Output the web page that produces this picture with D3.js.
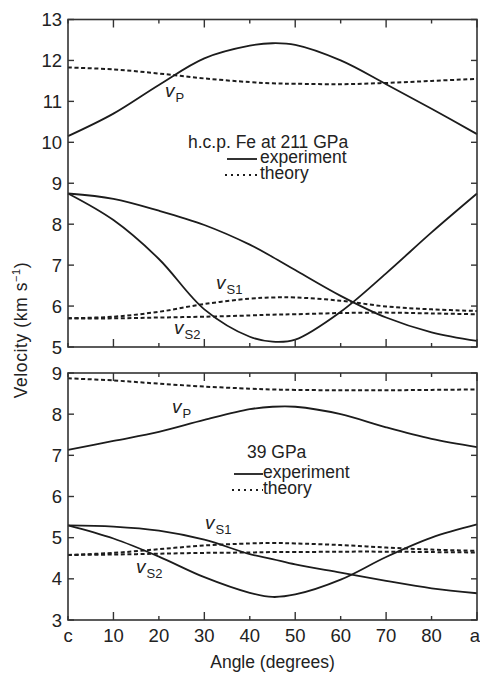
<!DOCTYPE html>
<html>
<head>
<meta charset="utf-8">
<script src="https://cdn.jsdelivr.net/npm/d3@7"></script>
<style>
  body { margin: 0; background: #fff; }
  svg { display: block; font-family: "Liberation Sans", Arial, sans-serif; }
  .curve { fill: none; stroke: #1c1c1c; stroke-width: 1.8; }
  .theory { stroke-dasharray: 4,2.6; stroke-width: 2; }
  .frame { fill: none; stroke: #333; stroke-width: 1.6; }
  .tick { stroke: #333; stroke-width: 1.4; }
</style>
</head>
<body>
<svg id="chart" width="480" height="673"></svg>
<script>
// sample angles (degrees from c axis)
const angles = [0, 10, 20, 30, 40, 45, 50, 60, 70, 80, 90];

// h.c.p. Fe at 211 GPa
const topVpExp  = [10.15, 10.7, 11.4, 12.05, 12.36, 12.42, 12.38, 12.0, 11.42, 10.82, 10.2];
const topVpTh   = [11.83, 11.78, 11.68, 11.56, 11.47, 11.44, 11.43, 11.42, 11.45, 11.5, 11.55];
const topVs1Exp = [8.75, 8.62, 8.33, 7.98, 7.5, 7.2, 6.88, 6.25, 5.72, 5.36, 5.15];
const topVs2Exp = [8.75, 8.1, 7.15, 5.92, 5.25, 5.13, 5.18, 5.86, 6.8, 7.8, 8.75];
const topVs1Th  = [5.7, 5.74, 5.86, 6.05, 6.18, 6.21, 6.21, 6.13, 5.99, 5.92, 5.88];
const topVs2Th  = [5.7, 5.7, 5.72, 5.74, 5.77, 5.79, 5.8, 5.83, 5.84, 5.82, 5.8];

// 39 GPa
const botVpExp  = [7.13, 7.35, 7.57, 7.86, 8.12, 8.18, 8.18, 8.0, 7.68, 7.4, 7.2];
const botVpTh   = [8.87, 8.82, 8.74, 8.67, 8.62, 8.6, 8.59, 8.58, 8.58, 8.59, 8.6];
const botVs1Exp = [5.3, 5.27, 5.17, 4.95, 4.6, 4.48, 4.35, 4.15, 3.95, 3.77, 3.65];
const botVs2Exp = [5.3, 4.98, 4.54, 4.04, 3.66, 3.56, 3.62, 3.98, 4.53, 5.0, 5.32];
const botVs1Th  = [4.58, 4.63, 4.72, 4.81, 4.86, 4.87, 4.86, 4.82, 4.76, 4.71, 4.68];
const botVs2Th  = [4.58, 4.59, 4.61, 4.63, 4.64, 4.65, 4.65, 4.66, 4.66, 4.65, 4.64];

const xTicks = [0, 10, 20, 30, 40, 50, 60, 70, 80, 90];
const xTickLabels = ['c', '10', '20', '30', '40', '50', '60', '70', '80', 'a'];
const topYTicks = [5, 6, 7, 8, 9, 10, 11, 12, 13];
const botYTicks = [3, 4, 5, 6, 7, 8, 9];

const svg = d3.select('#chart');
const x = d3.scaleLinear().domain([0, 90]).range([68, 477]);

const panels = [
  {
    y: d3.scaleLinear().domain([5, 13]).range([347, 19.5]),
    ticks: topYTicks,
    exp: [topVpExp, topVs1Exp, topVs2Exp],
    th: [topVpTh, topVs1Th, topVs2Th],
    title: { text: 'h.c.p. Fe at 211 GPa', x: 188, y: 148 },
    legend: { x1: 227, x2: 257, tx: 260, y: 163 },
    labels: [
      { sub: 'P', x: 165, y: 97 },
      { sub: 'S1', x: 216, y: 289 },
      { sub: 'S2', x: 174, y: 334 }
    ]
  },
  {
    y: d3.scaleLinear().domain([3, 9]).range([620, 373]),
    ticks: botYTicks,
    exp: [botVpExp, botVs1Exp, botVs2Exp],
    th: [botVpTh, botVs1Th, botVs2Th],
    title: { text: '39 GPa', x: 247, y: 458 },
    legend: { x1: 234, x2: 263, tx: 263, y: 478 },
    labels: [
      { sub: 'P', x: 172, y: 413 },
      { sub: 'S1', x: 205, y: 529 },
      { sub: 'S2', x: 136, y: 573 }
    ]
  }
];

panels.forEach(p => {
  const g = svg.append('g');
  const [y0, y1] = p.y.range();
  const line = d3.line()
    .x((d, i) => x(angles[i]))
    .y(d => p.y(d))
    .curve(d3.curveCatmullRom.alpha(0.5));

  // curves
  p.th.forEach(s => g.append('path').attr('class', 'curve theory').attr('d', line(s)));
  p.exp.forEach(s => g.append('path').attr('class', 'curve').attr('d', line(s)));

  // frame
  g.append('rect').attr('class', 'frame')
    .attr('x', x(0)).attr('y', y1)
    .attr('width', x(90) - x(0)).attr('height', y0 - y1);

  // x ticks, inward on top and bottom; 10,30,50,70 are longer
  xTicks.forEach(t => {
    const len = (t / 10) % 2 === 1 ? 8 : 4;
    g.append('line').attr('class', 'tick')
      .attr('x1', x(t)).attr('x2', x(t)).attr('y1', y0).attr('y2', y0 - len);
    g.append('line').attr('class', 'tick')
      .attr('x1', x(t)).attr('x2', x(t)).attr('y1', y1).attr('y2', y1 + len);
  });

  // y ticks, inward on both sides, with labels on the left
  p.ticks.forEach(t => {
    g.append('line').attr('class', 'tick')
      .attr('x1', x(0)).attr('x2', x(0) + 6).attr('y1', p.y(t)).attr('y2', p.y(t));
    g.append('line').attr('class', 'tick')
      .attr('x1', x(90)).attr('x2', x(90) - 6).attr('y1', p.y(t)).attr('y2', p.y(t));
    g.append('text')
      .attr('x', 62).attr('y', p.y(t) + 6.5)
      .attr('text-anchor', 'end')
      .attr('font-size', 18.5).attr('fill', '#222')
      .text(t);
  });

  // legend block
  g.append('text')
    .attr('x', p.title.x).attr('y', p.title.y)
    .attr('font-size', 17.5).attr('fill', '#222')
    .text(p.title.text);
  const L = p.legend;
  g.append('line').attr('class', 'curve')
    .attr('x1', L.x1).attr('x2', L.x2).attr('y1', L.y - 4).attr('y2', L.y - 4);
  g.append('text').attr('x', L.tx).attr('y', L.y)
    .attr('font-size', 17.5).attr('fill', '#222').text('experiment');
  g.append('line').attr('class', 'curve')
    .attr('stroke-dasharray', '2,4')
    .attr('x1', L.x1 - 2).attr('x2', L.x2).attr('y1', L.y + 12).attr('y2', L.y + 12);
  g.append('text').attr('x', L.tx).attr('y', L.y + 16)
    .attr('font-size', 17.5).attr('fill', '#222').text('theory');

  // mode labels v_P, v_S1, v_S2
  p.labels.forEach(l => {
    const t = g.append('text').attr('x', l.x).attr('y', l.y).attr('fill', '#222');
    t.append('tspan').attr('font-style', 'italic').attr('font-size', 19).text('v');
    t.append('tspan').attr('font-size', 13).attr('dx', 1).attr('dy', 5).text(l.sub);
  });
});

// x axis labels under the lower panel
xTicks.forEach((t, i) => {
  svg.append('text')
    .attr('x', i === xTicks.length - 1 ? x(t) - 2 : x(t)).attr('y', 642)
    .attr('text-anchor', 'middle')
    .attr('font-size', 18.5).attr('fill', '#222')
    .text(xTickLabels[i]);
});

svg.append('text')
  .attr('x', (x(0) + x(90)) / 2).attr('y', 668)
  .attr('text-anchor', 'middle')
  .attr('font-size', 17.5).attr('fill', '#222')
  .text('Angle (degrees)');

const yl = svg.append('text')
  .attr('transform', 'translate(27,330) rotate(-90)')
  .attr('text-anchor', 'middle')
  .attr('font-size', 17.5).attr('letter-spacing', 0.6).attr('fill', '#222');
yl.append('tspan').text('Velocity (km s');
yl.append('tspan').attr('font-size', 11).attr('dy', -7).text('−1');
yl.append('tspan').attr('dy', 7).text(')');
</script>
</body>
</html>
